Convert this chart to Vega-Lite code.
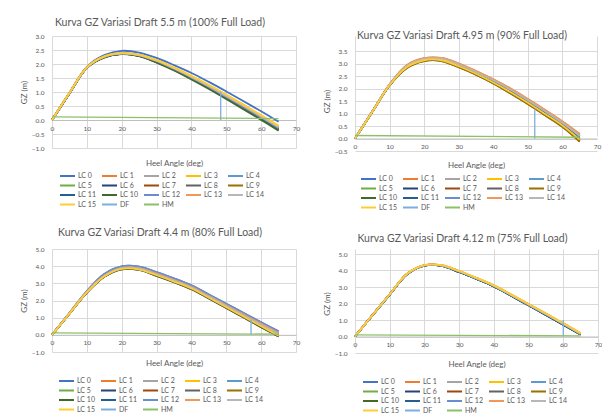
{
"$schema": "https://vega.github.io/schema/vega-lite/v6.json",
"padding": {"left": 20, "top": 17, "right": 0, "bottom": 0},
"config": {
  "font": "Lato",
  "view": {"stroke": null},
  "axis": {"grid": true, "gridColor": "#D9D9D9", "gridWidth": 1, "ticks": false, "domain": false, "labelColor": "#595959", "labelFontSize": 6.5, "labelFont": "Lato", "titleColor": "#595959", "titleFontSize": 8, "titleFontWeight": "normal", "titleFont": "Lato", "labelOverlap": false},
  "axisX": {"domain": true, "domainColor": "#BFBFBF", "labelPadding": 5, "labelFlush": false},
  "axisY": {"labelPadding": 8, "titlePadding": 3},
  "legend": {"orient": "none", "direction": "horizontal", "columns": 5, "symbolType": "stroke", "symbolSize": 225, "symbolStrokeWidth": 2, "labelFontSize": 7, "labelColor": "#595959", "labelFont": "Lato", "labelOffset": 2, "columnPadding": 5, "rowPadding": 1.5, "gridAlign": "all", "padding": 0, "clipHeight": 8},
  "title": {"fontSize": 10.5, "fontWeight": "normal", "color": "#595959", "font": "Lato", "anchor": "middle", "frame": "bounds", "offset": 5}
},
"datasets": {
  "c1": [
    {"s":"LC 0","a":[0,5,10,15,20,25,30,35,40,45,50,55,60,65],"g":[0,0.97,1.9,2.32,2.47,2.41,2.22,1.96,1.68,1.36,1.02,0.67,0.31,-0.06]},
    {"s":"LC 1","a":[0,5,10,15,20,25,30,35,40,45,50,55,60,65],"g":[0,0.96,1.875,2.26,2.38,2.32,2.12,1.85,1.54,1.21,0.86,0.5,0.13,-0.25]},
    {"s":"LC 2","a":[0,5,10,15,20,25,30,35,40,45,50,55,60,65],"g":[0,0.96,1.875,2.26,2.38,2.32,2.12,1.85,1.54,1.21,0.86,0.5,0.13,-0.25]},
    {"s":"LC 3","a":[0,5,10,15,20,25,30,35,40,45,50,55,60,65],"g":[0,0.96,1.88,2.27,2.39,2.33,2.14,1.87,1.57,1.25,0.9,0.54,0.17,-0.21]},
    {"s":"LC 4","a":[0,5,10,15,20,25,30,35,40,45,50,55,60,65],"g":[0,0.955,1.87,2.25,2.37,2.31,2.1,1.82,1.51,1.18,0.82,0.46,0.09,-0.29]},
    {"s":"LC 5","a":[0,5,10,15,20,25,30,35,40,45,50,55,60,65],"g":[0,0.955,1.87,2.25,2.37,2.31,2.1,1.82,1.51,1.18,0.82,0.46,0.09,-0.29]},
    {"s":"LC 6","a":[0,5,10,15,20,25,30,35,40,45,50,55,60,65],"g":[0,0.95,1.865,2.24,2.36,2.29,2.07,1.8,1.48,1.14,0.78,0.42,0.04,-0.34]},
    {"s":"LC 7","a":[0,5,10,15,20,25,30,35,40,45,50,55,60,65],"g":[0,0.95,1.865,2.24,2.36,2.29,2.07,1.8,1.48,1.14,0.78,0.42,0.04,-0.34]},
    {"s":"LC 8","a":[0,5,10,15,20,25,30,35,40,45,50,55,60,65],"g":[0,0.95,1.865,2.24,2.36,2.29,2.07,1.8,1.48,1.14,0.78,0.42,0.04,-0.34]},
    {"s":"LC 9","a":[0,5,10,15,20,25,30,35,40,45,50,55,60,65],"g":[0,0.955,1.87,2.25,2.37,2.31,2.1,1.82,1.51,1.18,0.82,0.46,0.09,-0.29]},
    {"s":"LC 11","a":[0,5,10,15,20,25,30,35,40,45,50,55,60,65],"g":[0,0.95,1.865,2.24,2.36,2.29,2.07,1.8,1.48,1.14,0.78,0.42,0.04,-0.34]},
    {"s":"LC 10","a":[0,5,10,15,20,25,30,35,40,45,50,55,60,65],"g":[0,0.95,1.86,2.23,2.35,2.28,2.05,1.77,1.45,1.11,0.75,0.38,0.0,-0.38]},
    {"s":"LC 12","a":[0,5,10,15,20,25,30,35,40,45,50,55,60,65],"g":[0,0.955,1.87,2.25,2.37,2.31,2.1,1.82,1.51,1.18,0.82,0.46,0.09,-0.29]},
    {"s":"LC 13","a":[0,5,10,15,20,25,30,35,40,45,50,55,60,65],"g":[0,0.96,1.875,2.26,2.38,2.32,2.12,1.85,1.54,1.21,0.86,0.5,0.13,-0.25]},
    {"s":"LC 14","a":[0,5,10,15,20,25,30,35,40,45,50,55,60,65],"g":[0,0.96,1.875,2.26,2.38,2.32,2.12,1.85,1.54,1.21,0.86,0.5,0.13,-0.25]},
    {"s":"LC 15","a":[0,5,10,15,20,25,30,35,40,45,50,55,60,65],"g":[0,0.96,1.88,2.27,2.39,2.33,2.14,1.87,1.57,1.25,0.9,0.54,0.17,-0.21]}
  ],
  "r1": [
    {"s":"DF","a":48.4,"g":0},{"s":"DF","a":48.4,"g":1.02},
    {"s":"HM","a":0,"g":0.11},{"s":"HM","a":65,"g":0.05}
  ],
  "c2": [
    {"s":"LC 0","a":[0,5,10,15,20,25,30,35,40,45,50,55,60,65],"g":[0,1.08,2.15,2.92,3.19,3.2,2.98,2.68,2.34,1.97,1.55,1.11,0.65,0.15]},
    {"s":"LC 1","a":[0,5,10,15,20,25,30,35,40,45,50,55,60,65],"g":[0,1.08,2.16,2.93,3.21,3.22,3.0,2.7,2.37,2.0,1.58,1.14,0.68,0.18]},
    {"s":"LC 2","a":[0,5,10,15,20,25,30,35,40,45,50,55,60,65],"g":[0,1.075,2.15,2.9,3.18,3.19,2.96,2.66,2.33,1.95,1.53,1.09,0.63,0.1]},
    {"s":"LC 3","a":[0,5,10,15,20,25,30,35,40,45,50,55,60,65],"g":[0,1.07,2.14,2.875,3.155,3.16,2.925,2.625,2.285,1.9,1.48,1.035,0.575,0.03]},
    {"s":"LC 4","a":[0,5,10,15,20,25,30,35,40,45,50,55,60,65],"g":[0,1.075,2.15,2.9,3.18,3.19,2.96,2.66,2.33,1.95,1.53,1.09,0.63,0.1]},
    {"s":"LC 5","a":[0,5,10,15,20,25,30,35,40,45,50,55,60,65],"g":[0,1.07,2.14,2.875,3.155,3.16,2.925,2.625,2.285,1.9,1.48,1.035,0.575,0.03]},
    {"s":"LC 6","a":[0,5,10,15,20,25,30,35,40,45,50,55,60,65],"g":[0,1.065,2.13,2.85,3.13,3.13,2.89,2.59,2.24,1.85,1.43,0.98,0.52,-0.045]},
    {"s":"LC 7","a":[0,5,10,15,20,25,30,35,40,45,50,55,60,65],"g":[0,1.06,2.12,2.82,3.1,3.1,2.85,2.55,2.2,1.8,1.38,0.93,0.47,-0.12]},
    {"s":"LC 8","a":[0,5,10,15,20,25,30,35,40,45,50,55,60,65],"g":[0,1.065,2.13,2.85,3.13,3.13,2.89,2.59,2.24,1.85,1.43,0.98,0.52,-0.045]},
    {"s":"LC 9","a":[0,5,10,15,20,25,30,35,40,45,50,55,60,65],"g":[0,1.06,2.12,2.82,3.1,3.1,2.85,2.55,2.2,1.8,1.38,0.93,0.47,-0.12]},
    {"s":"LC 10","a":[0,5,10,15,20,25,30,35,40,45,50,55,60,65],"g":[0,1.065,2.13,2.85,3.13,3.13,2.89,2.59,2.24,1.85,1.43,0.98,0.52,-0.045]},
    {"s":"LC 11","a":[0,5,10,15,20,25,30,35,40,45,50,55,60,65],"g":[0,1.07,2.14,2.875,3.155,3.16,2.925,2.625,2.285,1.9,1.48,1.035,0.575,0.03]},
    {"s":"LC 12","a":[0,5,10,15,20,25,30,35,40,45,50,55,60,65],"g":[0,1.075,2.15,2.9,3.18,3.19,2.96,2.66,2.33,1.95,1.53,1.09,0.63,0.1]},
    {"s":"LC 13","a":[0,5,10,15,20,25,30,35,40,45,50,55,60,65],"g":[0,1.08,2.16,2.93,3.21,3.22,3.0,2.7,2.37,2.0,1.58,1.14,0.68,0.18]},
    {"s":"LC 14","a":[0,5,10,15,20,25,30,35,40,45,50,55,60,65],"g":[0,1.075,2.15,2.9,3.18,3.19,2.96,2.66,2.33,1.95,1.53,1.09,0.63,0.1]},
    {"s":"LC 15","a":[0,5,10,15,20,25,30,35,40,45,50,55,60,65],"g":[0,1.065,2.13,2.85,3.13,3.13,2.89,2.59,2.24,1.85,1.43,0.98,0.52,-0.045]}
  ],
  "r2": [
    {"s":"DF","a":52,"g":0},{"s":"DF","a":52,"g":1.17},
    {"s":"HM","a":0,"g":0.12},{"s":"HM","a":65,"g":0.05}
  ],
  "c3": [
    {"s":"LC 0","a":[0,5,10,15,20,25,30,35,40,45,50,55,60,65],"g":[0,1.27,2.55,3.55,3.99,3.97,3.66,3.29,2.88,2.35,1.81,1.27,0.73,0.2]},
    {"s":"LC 1","a":[0,5,10,15,20,25,30,35,40,45,50,55,60,65],"g":[0,1.25,2.5,3.45,3.9,3.88,3.56,3.19,2.79,2.26,1.72,1.18,0.64,0.1]},
    {"s":"LC 2","a":[0,5,10,15,20,25,30,35,40,45,50,55,60,65],"g":[0,1.245,2.49,3.43,3.88,3.855,3.53,3.16,2.76,2.23,1.68,1.13,0.59,0.05]},
    {"s":"LC 3","a":[0,5,10,15,20,25,30,35,40,45,50,55,60,65],"g":[0,1.25,2.5,3.45,3.9,3.88,3.56,3.19,2.79,2.26,1.72,1.18,0.64,0.1]},
    {"s":"LC 4","a":[0,5,10,15,20,25,30,35,40,45,50,55,60,65],"g":[0,1.245,2.49,3.43,3.88,3.855,3.53,3.16,2.76,2.23,1.68,1.13,0.59,0.05]},
    {"s":"LC 5","a":[0,5,10,15,20,25,30,35,40,45,50,55,60,65],"g":[0,1.24,2.48,3.415,3.86,3.83,3.5,3.13,2.73,2.19,1.64,1.09,0.54,0.0]},
    {"s":"LC 6","a":[0,5,10,15,20,25,30,35,40,45,50,55,60,65],"g":[0,1.235,2.47,3.4,3.84,3.805,3.47,3.1,2.7,2.16,1.61,1.05,0.5,-0.05]},
    {"s":"LC 7","a":[0,5,10,15,20,25,30,35,40,45,50,55,60,65],"g":[0,1.23,2.46,3.38,3.82,3.78,3.44,3.07,2.66,2.12,1.57,1.01,0.45,-0.1]},
    {"s":"LC 8","a":[0,5,10,15,20,25,30,35,40,45,50,55,60,65],"g":[0,1.235,2.47,3.4,3.84,3.805,3.47,3.1,2.7,2.16,1.61,1.05,0.5,-0.05]},
    {"s":"LC 9","a":[0,5,10,15,20,25,30,35,40,45,50,55,60,65],"g":[0,1.24,2.48,3.415,3.86,3.83,3.5,3.13,2.73,2.19,1.64,1.09,0.54,0.0]},
    {"s":"LC 10","a":[0,5,10,15,20,25,30,35,40,45,50,55,60,65],"g":[0,1.23,2.46,3.38,3.82,3.78,3.44,3.07,2.66,2.12,1.57,1.01,0.45,-0.1]},
    {"s":"LC 11","a":[0,5,10,15,20,25,30,35,40,45,50,55,60,65],"g":[0,1.235,2.47,3.4,3.84,3.805,3.47,3.1,2.7,2.16,1.61,1.05,0.5,-0.05]},
    {"s":"LC 12","a":[0,5,10,15,20,25,30,35,40,45,50,55,60,65],"g":[0,1.27,2.55,3.55,3.99,3.97,3.66,3.29,2.88,2.35,1.81,1.27,0.73,0.2]},
    {"s":"LC 13","a":[0,5,10,15,20,25,30,35,40,45,50,55,60,65],"g":[0,1.25,2.5,3.45,3.9,3.88,3.56,3.19,2.79,2.26,1.72,1.18,0.64,0.1]},
    {"s":"LC 14","a":[0,5,10,15,20,25,30,35,40,45,50,55,60,65],"g":[0,1.245,2.49,3.43,3.88,3.855,3.53,3.16,2.76,2.23,1.68,1.13,0.59,0.05]},
    {"s":"LC 15","a":[0,5,10,15,20,25,30,35,40,45,50,55,60,65],"g":[0,1.235,2.47,3.4,3.84,3.805,3.47,3.1,2.7,2.16,1.61,1.05,0.5,-0.05]}
  ],
  "r3": [
    {"s":"DF","a":57.1,"g":0},{"s":"DF","a":57.1,"g":0.9},
    {"s":"HM","a":0,"g":0.11},{"s":"HM","a":65,"g":0.04}
  ],
  "c4": [
    {"s":"LC 0","a":[0,5,10,15,20,25,30,35,40,45,50,55,60,65],"g":[0,1.28,2.54,3.77,4.3,4.28,3.91,3.49,3.04,2.47,1.89,1.31,0.72,0.12]},
    {"s":"LC 1","a":[0,5,10,15,20,25,30,35,40,45,50,55,60,65],"g":[0,1.285,2.55,3.785,4.315,4.3,3.94,3.52,3.07,2.5,1.93,1.35,0.76,0.16]},
    {"s":"LC 2","a":[0,5,10,15,20,25,30,35,40,45,50,55,60,65],"g":[0,1.285,2.55,3.785,4.315,4.3,3.94,3.52,3.07,2.5,1.93,1.35,0.76,0.16]},
    {"s":"LC 3","a":[0,5,10,15,20,25,30,35,40,45,50,55,60,65],"g":[0,1.29,2.56,3.8,4.33,4.32,3.97,3.55,3.1,2.54,1.97,1.39,0.8,0.2]},
    {"s":"LC 4","a":[0,5,10,15,20,25,30,35,40,45,50,55,60,65],"g":[0,1.285,2.55,3.785,4.315,4.3,3.94,3.52,3.07,2.5,1.93,1.35,0.76,0.16]},
    {"s":"LC 5","a":[0,5,10,15,20,25,30,35,40,45,50,55,60,65],"g":[0,1.285,2.55,3.785,4.315,4.3,3.94,3.52,3.07,2.5,1.93,1.35,0.76,0.16]},
    {"s":"LC 6","a":[0,5,10,15,20,25,30,35,40,45,50,55,60,65],"g":[0,1.28,2.54,3.77,4.3,4.28,3.91,3.49,3.04,2.47,1.89,1.31,0.72,0.12]},
    {"s":"LC 7","a":[0,5,10,15,20,25,30,35,40,45,50,55,60,65],"g":[0,1.285,2.55,3.785,4.315,4.3,3.94,3.52,3.07,2.5,1.93,1.35,0.76,0.16]},
    {"s":"LC 8","a":[0,5,10,15,20,25,30,35,40,45,50,55,60,65],"g":[0,1.28,2.54,3.77,4.3,4.28,3.91,3.49,3.04,2.47,1.89,1.31,0.72,0.12]},
    {"s":"LC 9","a":[0,5,10,15,20,25,30,35,40,45,50,55,60,65],"g":[0,1.285,2.55,3.785,4.315,4.3,3.94,3.52,3.07,2.5,1.93,1.35,0.76,0.16]},
    {"s":"LC 10","a":[0,5,10,15,20,25,30,35,40,45,50,55,60,65],"g":[0,1.28,2.54,3.77,4.3,4.28,3.91,3.49,3.04,2.47,1.89,1.31,0.72,0.12]},
    {"s":"LC 11","a":[0,5,10,15,20,25,30,35,40,45,50,55,60,65],"g":[0,1.28,2.54,3.77,4.3,4.28,3.91,3.49,3.04,2.47,1.89,1.31,0.72,0.12]},
    {"s":"LC 12","a":[0,5,10,15,20,25,30,35,40,45,50,55,60,65],"g":[0,1.285,2.55,3.785,4.315,4.3,3.94,3.52,3.07,2.5,1.93,1.35,0.76,0.16]},
    {"s":"LC 13","a":[0,5,10,15,20,25,30,35,40,45,50,55,60,65],"g":[0,1.29,2.56,3.8,4.33,4.32,3.97,3.55,3.1,2.54,1.97,1.39,0.8,0.2]},
    {"s":"LC 14","a":[0,5,10,15,20,25,30,35,40,45,50,55,60,65],"g":[0,1.285,2.55,3.785,4.315,4.3,3.94,3.52,3.07,2.5,1.93,1.35,0.76,0.16]},
    {"s":"LC 15","a":[0,5,10,15,20,25,30,35,40,45,50,55,60,65],"g":[0,1.29,2.56,3.8,4.33,4.32,3.97,3.55,3.1,2.54,1.97,1.39,0.8,0.2]}
  ],
  "r4": [
    {"s":"DF","a":60,"g":0},{"s":"DF","a":60,"g":1.0},
    {"s":"HM","a":0,"g":0.1},{"s":"HM","a":65,"g":0.04}
  ]
},
"resolve": {"scale": {"color": "independent", "x": "independent", "y": "independent"}, "legend": {"color": "independent"}, "axis": {"x": "independent", "y": "independent"}},
"columns": 2,
"align": "each",
"spacing": {"row": 15, "column": 23},
"concat": [
    {"width": 244, "height": 112,
     "title": {"text": "Kurva GZ Variasi Draft 5.5 m (100% Full Load)"},
     "encoding": {
        "x": {"field": "a", "type": "quantitative", "scale": {"domain": [0, 70], "nice": false}, "axis": {"values": [0,10,20,30,40,50,60,70], "labelOverlap": false, "offset": -28, "title": "Heel Angle (deg)", "titlePadding": 28}},
        "y": {"field": "g", "type": "quantitative", "scale": {"domain": [-1, 3], "nice": false}, "axis": {"values": [-1,-0.5,0,0.5,1,1.5,2,2.5,3], "labelOverlap": false, "format": ".1f", "title": "GZ (m)"}},
        "color": {"field": "s", "type": "nominal",
          "scale": {"domain": ["LC 0","LC 1","LC 2","LC 3","LC 4","LC 5","LC 6","LC 7","LC 8","LC 9","LC 11","LC 10","LC 12","LC 13","LC 14","LC 15","DF","HM"],
                    "range": ["#4472C4","#ED7D31","#A5A5A5","#FFC000","#5B9BD5","#70AD47","#264478","#9E480E","#636363","#997300","#255E91","#43682B","#698ED0","#F1975A","#B7B7B7","#FFCD33","#7CAFDD","#8CC168"]},
          "legend": {"title": null, "legendX": 7, "legendY": 136}}
     },
     "layer": [
      {"data": {"name": "c1"}, "transform": [{"flatten": ["a", "g"]}],
       "mark": {"type": "line", "interpolate": "catmull-rom", "strokeWidth": 1.8}},
      {"data": {"name": "r1"}, "mark": {"type": "line", "strokeWidth": 1.3}}
     ]},
    {"width": 242, "height": 115,
     "title": {"text": "Kurva GZ Variasi Draft 4.95 m (90% Full Load)", "offset": -5},
     "encoding": {
        "x": {"field": "a", "type": "quantitative", "scale": {"domain": [0, 70], "nice": false}, "axis": {"values": [0,10,20,30,40,50,60,70], "labelOverlap": false, "offset": -12.5, "title": "Heel Angle (deg)", "titlePadding": 11.5}},
        "y": {"field": "g", "type": "quantitative", "scale": {"domain": [-0.5, 3.5], "nice": false, "range": [115, 15]}, "axis": {"values": [-0.5,0,0.5,1,1.5,2,2.5,3,3.5], "labelOverlap": false, "format": ".1f", "title": "GZ (m)"}},
        "color": {"field": "s", "type": "nominal",
          "scale": {"domain": ["LC 0","LC 1","LC 2","LC 3","LC 4","LC 5","LC 6","LC 7","LC 8","LC 9","LC 10","LC 11","LC 12","LC 13","LC 14","LC 15","DF","HM"],
                    "range": ["#4472C4","#ED7D31","#A5A5A5","#FFC000","#5B9BD5","#70AD47","#264478","#9E480E","#636363","#997300","#43682B","#255E91","#698ED0","#F1975A","#B7B7B7","#FFCD33","#7CAFDD","#8CC168"]},
          "legend": {"title": null, "legendX": 5, "legendY": 139}}
     },
     "layer": [
      {"data": {"name": "c2"}, "transform": [{"flatten": ["a", "g"]}],
       "mark": {"type": "line", "interpolate": "catmull-rom", "strokeWidth": 1.8}},
      {"data": {"name": "r2"}, "mark": {"type": "line", "strokeWidth": 1.3}}
     ]},
    {"width": 244, "height": 103,
     "title": {"text": "Kurva GZ Variasi Draft 4.4 m (80% Full Load)", "offset": 8},
     "encoding": {
        "x": {"field": "a", "type": "quantitative", "scale": {"domain": [0, 70], "nice": false}, "axis": {"values": [0,10,20,30,40,50,60,70], "labelOverlap": false, "offset": -17.2, "title": "Heel Angle (deg)", "titlePadding": 13.5}},
        "y": {"field": "g", "type": "quantitative", "scale": {"domain": [-1, 5], "nice": false}, "axis": {"values": [-1,0,1,2,3,4,5], "labelOverlap": false, "format": ".1f", "title": "GZ (m)"}},
        "color": {"field": "s", "type": "nominal",
          "scale": {"domain": ["LC 0","LC 1","LC 2","LC 3","LC 4","LC 5","LC 6","LC 7","LC 8","LC 9","LC 10","LC 11","LC 12","LC 13","LC 14","LC 15","DF","HM"],
                    "range": ["#4472C4","#ED7D31","#A5A5A5","#FFC000","#5B9BD5","#70AD47","#264478","#9E480E","#636363","#997300","#43682B","#255E91","#698ED0","#F1975A","#B7B7B7","#FFCD33","#7CAFDD","#8CC168"]},
          "legend": {"title": null, "legendX": 6, "legendY": 128}}
     },
     "layer": [
      {"data": {"name": "c3"}, "transform": [{"flatten": ["a", "g"]}],
       "mark": {"type": "line", "interpolate": "catmull-rom", "strokeWidth": 1.8}},
      {"data": {"name": "r3"}, "mark": {"type": "line", "strokeWidth": 1.3}}
     ]},
    {"width": 243, "height": 104,
     "title": {"text": "Kurva GZ Variasi Draft 4.12 m (75% Full Load)", "offset": 5},
     "encoding": {
        "x": {"field": "a", "type": "quantitative", "scale": {"domain": [0, 70], "nice": false}, "axis": {"values": [0,10,20,30,40,50,60,70], "labelOverlap": false, "offset": -16.5, "title": "Heel Angle (deg)", "titlePadding": 12.5}},
        "y": {"field": "g", "type": "quantitative", "scale": {"domain": [-1, 5], "nice": false, "range": [104, 5]}, "axis": {"values": [-1,0,1,2,3,4,5], "labelOverlap": false, "format": ".1f", "title": "GZ (m)"}},
        "color": {"field": "s", "type": "nominal",
          "scale": {"domain": ["LC 0","LC 1","LC 2","LC 3","LC 4","LC 5","LC 6","LC 7","LC 8","LC 9","LC 10","LC 11","LC 12","LC 13","LC 14","LC 15","DF","HM"],
                    "range": ["#4472C4","#ED7D31","#A5A5A5","#FFC000","#5B9BD5","#70AD47","#264478","#9E480E","#636363","#997300","#43682B","#255E91","#698ED0","#F1975A","#B7B7B7","#FFCD33","#7CAFDD","#8CC168"]},
          "legend": {"title": null, "legendX": 7, "legendY": 129}}
     },
     "layer": [
      {"data": {"name": "c4"}, "transform": [{"flatten": ["a", "g"]}],
       "mark": {"type": "line", "interpolate": "catmull-rom", "strokeWidth": 1.8}},
      {"data": {"name": "r4"}, "mark": {"type": "line", "strokeWidth": 1.3}}
     ]}
]
}
